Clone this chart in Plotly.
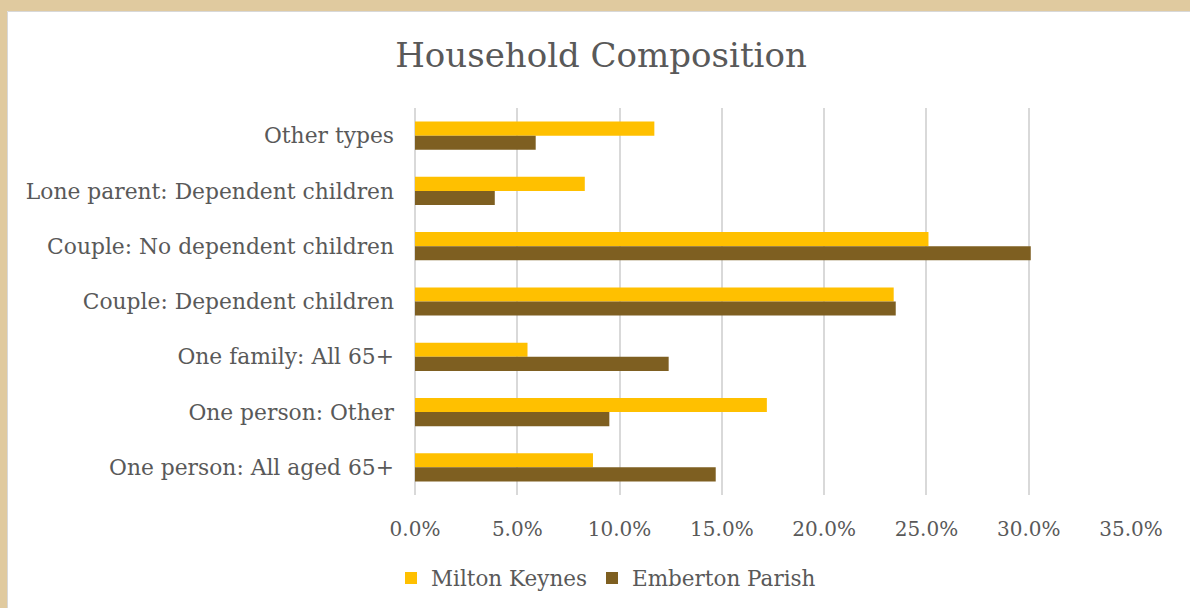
import plotly.graph_objects as go

categories = [
    "Other types",
    "Lone parent: Dependent children",
    "Couple: No dependent children",
    "Couple: Dependent children",
    "One family: All 65+",
    "One person: Other",
    "One person: All aged 65+",
]
milton_keynes = [11.7, 8.3, 25.1, 23.4, 5.5, 17.2, 8.7]
emberton_parish = [5.9, 3.9, 30.1, 23.5, 12.4, 9.5, 14.7]
tick_vals = [0, 5, 10, 15, 20, 25, 30, 35]
tick_text = ["0.0%", "5.0%", "10.0%", "15.0%", "20.0%", "25.0%", "30.0%", "35.0%"]

W, H = 1190, 608
L, R, T, B = 415, 59, 108, 113
pw, ph = W - L - R, H - T - B

def px(x):
    return (x - L) / pw

def py(y):
    return 1 - (y - T) / ph

FONT = "DejaVu Serif"
GREY = "#595959"

fig = go.Figure()
fig.add_trace(go.Bar(y=categories, x=milton_keynes, orientation="h", name="Milton Keynes",
                     marker=dict(color="#FFC000", line=dict(width=0))))
fig.add_trace(go.Bar(y=categories, x=emberton_parish, orientation="h", name="Emberton Parish",
                     marker=dict(color="#7E5F21", line=dict(width=0))))

shapes = [
    dict(type="rect", xref="paper", yref="paper", x0=px(0), x1=px(W), y0=py(0), y1=py(11),
         fillcolor="#E0CA9F", line=dict(width=0), layer="above"),
    dict(type="rect", xref="paper", yref="paper", x0=px(0), x1=px(7), y0=py(0), y1=py(H),
         fillcolor="#E0CA9F", line=dict(width=0), layer="above"),
    dict(type="line", xref="paper", yref="paper", x0=px(7.5), x1=px(W), y0=py(11.5), y1=py(11.5),
         line=dict(color="#D8D8D8", width=1), layer="above"),
    dict(type="line", xref="paper", yref="paper", x0=px(7.5), x1=px(7.5), y0=py(11.5), y1=py(H),
         line=dict(color="#D8D8D8", width=1), layer="above"),
]

fig.update_layout(
    width=W, height=H,
    margin=dict(l=L, r=R, t=T, b=B),
    paper_bgcolor="white", plot_bgcolor="white",
    barmode="group", bargap=0.49, bargroupgap=0,
    font=dict(family=FONT, color=GREY, size=21),
    title=dict(text="Household Composition", x=601 / W, xref="container", xanchor="center",
               y=1 - 55 / H, yref="container", yanchor="middle",
               font=dict(family=FONT, size=34, color=GREY)),
    xaxis=dict(range=[0, 35], tickvals=tick_vals, ticktext=tick_text,
               showgrid=True, gridcolor="#D9D9D9", gridwidth=1.5,
               zeroline=True, zerolinecolor="#D9D9D9", zerolinewidth=1.5,
               showline=False, ticks="", ticklabelstandoff=20,
               tickfont=dict(size=20, color=GREY), fixedrange=True),
    yaxis=dict(autorange="reversed", showgrid=False, showline=False, ticks="",
               ticklabelstandoff=20, tickfont=dict(size=21.8, color=GREY)),
    legend=dict(orientation="h", x=606 / W, xref="container", xanchor="center",
                y=1 - 578 / H, yref="container", yanchor="middle",
                font=dict(size=21.5, color=GREY), itemwidth=30, traceorder="normal"),
    shapes=shapes,
    showlegend=True,
)

fig.write_html("out.html")
